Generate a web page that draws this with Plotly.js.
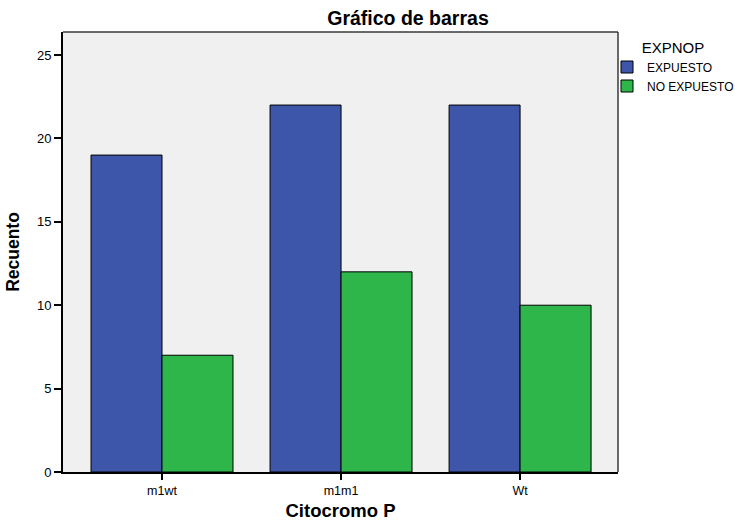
<!DOCTYPE html>
<html>
<head>
<meta charset="utf-8">
<script src="https://cdn.plot.ly/plotly-3.0.1.min.js"></script>
<style>
  html, body { margin: 0; padding: 0; background: #ffffff; }
  #chart { width: 735px; height: 525px; }
</style>
</head>
<body>
<div id="chart"></div>
<script>
// Recuento por genotipo de Citocromo P, separado por exposición
const categorias = ['m1wt', 'm1m1', 'Wt'];
const expuesto = [19, 22, 22];
const noExpuesto = [7, 12, 10];
const yTicks = [0, 5, 10, 15, 20, 25];

const FONT = 'Liberation Sans, Arial, sans-serif';

const traces = [
  {
    type: 'bar',
    name: 'EXPUESTO',
    x: categorias,
    y: expuesto,
    marker: { color: '#3d56a9', line: { color: '#000000', width: 1 } },
    hoverinfo: 'x+y+name'
  },
  {
    type: 'bar',
    name: 'NO EXPUESTO',
    x: categorias,
    y: noExpuesto,
    marker: { color: '#2fb64b', line: { color: '#000000', width: 1 } },
    hoverinfo: 'x+y+name'
  }
];

const layout = {
  width: 735,
  height: 525,
  margin: { l: 63, r: 117, t: 32, b: 53, autoexpand: false },
  paper_bgcolor: '#ffffff',
  plot_bgcolor: '#f0f0f0',
  barmode: 'group',
  bargap: 0.207,
  bargroupgap: 0,
  font: { family: FONT, color: '#000000', size: 12 },
  title: {
    text: '<b>Gráfico de barras</b>',
    font: { family: FONT, size: 19.5, color: '#000000' },
    x: 408 / 735,
    xanchor: 'center',
    y: 1 - 18 / 525,
    yanchor: 'middle'
  },
  xaxis: {
    type: 'category',
    range: [-0.553, 2.547],
    showgrid: false,
    zeroline: false,
    showline: true,
    linecolor: '#000000',
    linewidth: 2,
    mirror: false,
    ticks: 'outside',
    ticklen: 6,
    tickwidth: 2,
    tickcolor: '#000000',
    tickfont: { family: FONT, size: 12.5, color: '#000000' },
    title: {
      text: '<b>Citocromo P</b>',
      font: { family: FONT, size: 18.5, color: '#000000' },
      standoff: 7
    }
  },
  yaxis: {
    range: [0, 26.38],
    tickvals: yTicks,
    ticktext: yTicks.map(String),
    showgrid: false,
    zeroline: false,
    showline: true,
    linecolor: '#000000',
    linewidth: 2,
    ticks: 'outside',
    ticklen: 7,
    tickwidth: 2,
    tickcolor: '#000000',
    tickfont: { family: FONT, size: 13, color: '#000000' },
    title: {
      text: '<b>Recuento</b>',
      font: { family: FONT, size: 17.5, color: '#000000' },
      standoff: 13
    }
  },
  shapes: [
    // marco superior y derecho del área de trazado
    { type: 'line', xref: 'paper', yref: 'paper', x0: 0, x1: 1, y0: 1, y1: 1,
      line: { color: '#3a3a3a', width: 1.5 } },
    { type: 'line', xref: 'paper', yref: 'paper', x0: 1, x1: 1, y0: 0, y1: 1,
      line: { color: '#3a3a3a', width: 1.5 } }
  ],
  showlegend: true,
  legend: {
    xref: 'container',
    yref: 'container',
    x: 607 / 735,
    y: 1 - 33 / 525,
    xanchor: 'left',
    yanchor: 'top',
    bgcolor: 'rgba(0,0,0,0)',
    borderwidth: 0,
    tracegroupgap: 0,
    itemwidth: 30,
    font: { family: FONT, size: 12, color: '#000000' },
    title: {
      text: 'EXPNOP',
      side: 'top center',
      font: { family: FONT, size: 15, color: '#000000' }
    }
  }
};

Plotly.newPlot('chart', traces, layout, { displayModeBar: false, staticPlot: true });
</script>
</body>
</html>
